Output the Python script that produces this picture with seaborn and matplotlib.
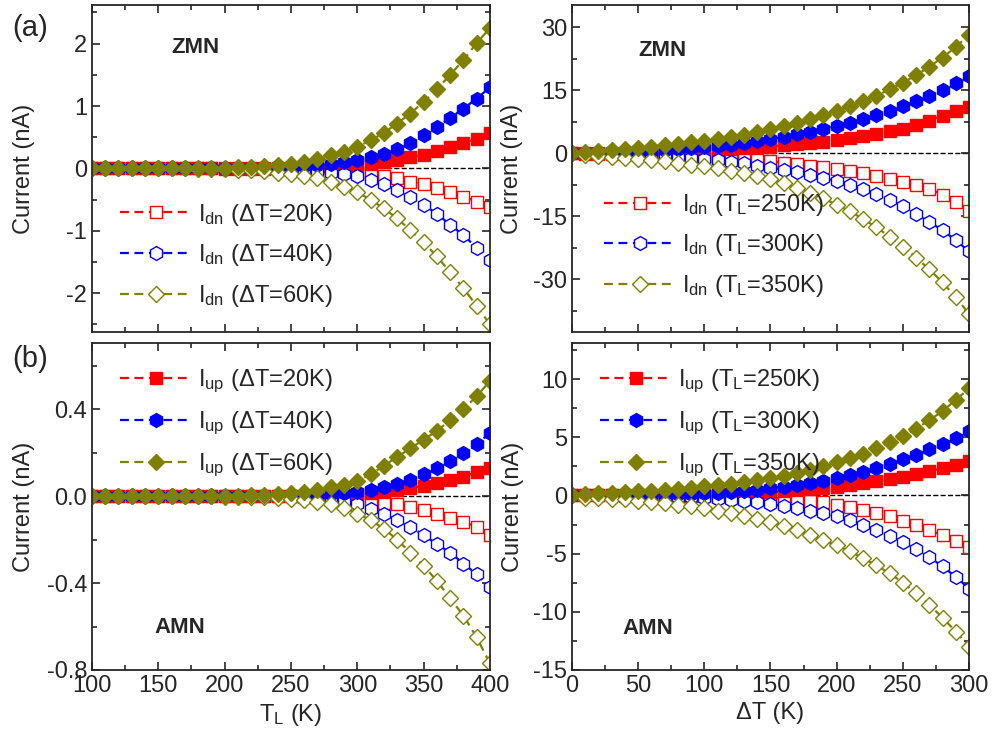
import matplotlib
matplotlib.use('Agg')
import matplotlib.pyplot as plt
from matplotlib.ticker import MultipleLocator, FormatStrFormatter
import seaborn as sns

sns.set_style('ticks')
plt.rcParams['font.family'] = ['Liberation Sans', 'DejaVu Sans']
plt.rcParams['mathtext.default'] = 'regular'
plt.rcParams['axes.unicode_minus'] = False

# x grids
T_L = [100, 110, 120, 130, 140, 150, 160, 170, 180, 190, 200, 210, 220, 230, 240, 250,
       260, 270, 280, 290, 300, 310, 320, 330, 340, 350, 360, 370, 380, 390, 400]
dT = [0, 10, 20, 30, 40, 50, 60, 70, 80, 90, 100, 110, 120, 130, 140, 150,
      160, 170, 180, 190, 200, 210, 220, 230, 240, 250, 260, 270, 280, 290, 300]

# (a) left: ZMN vs T_L, dT = 20/40/60 K
zmn_up_20 = [0, 0, 0, 0, 0, 0, 0, 0, 0, 0, 0.002, 0.003, 0.005, 0.007, 0.01, 0.013,
             0.017, 0.023, 0.03, 0.04, 0.052, 0.07, 0.1, 0.14, 0.18, 0.22, 0.28, 0.34, 0.41, 0.47, 0.57]
zmn_up_40 = [0, 0, 0, 0, 0, 0, 0, 0, 0, 0, 0.004, 0.006, 0.009, 0.013, 0.018, 0.025,
             0.034, 0.05, 0.07, 0.1, 0.14, 0.18, 0.23, 0.31, 0.41, 0.53, 0.67, 0.81, 0.96, 1.12, 1.30]
zmn_up_60 = [0, 0, 0, 0, 0, 0, 0, 0, 0.005, 0.008, 0.012, 0.017, 0.024, 0.034, 0.05, 0.075,
             0.11, 0.15, 0.21, 0.27, 0.35, 0.45, 0.57, 0.72, 0.88, 1.07, 1.27, 1.50, 1.74, 2.01, 2.25]
zmn_dn_20 = [0, 0, 0, 0, 0, 0, 0, 0, 0, 0, -0.002, -0.003, -0.005, -0.007, -0.01, -0.013,
             -0.017, -0.022, -0.03, -0.04, -0.06, -0.09, -0.12, -0.16, -0.21, -0.25, -0.31, -0.38, -0.45, -0.53, -0.62]
zmn_dn_40 = [0, 0, 0, 0, 0, 0, 0, 0, 0, 0, -0.003, -0.005, -0.008, -0.012, -0.017, -0.024,
             -0.034, -0.05, -0.07, -0.09, -0.12, -0.18, -0.25, -0.34, -0.45, -0.58, -0.73, -0.90, -1.07, -1.27, -1.47]
zmn_dn_60 = [0, 0, 0, 0, 0, 0, 0, 0, -0.006, -0.009, -0.014, -0.02, -0.03, -0.045, -0.065, -0.09,
             -0.12, -0.16, -0.21, -0.29, -0.38, -0.50, -0.64, -0.80, -0.99, -1.18, -1.41, -1.66, -1.92, -2.20, -2.50]

# (a) right: ZMN vs dT, T_L = 250/300/350 K
zmn_up_250 = [0, 0.05, 0.1, 0.15, 0.2, 0.25, 0.3, 0.4, 0.5, 0.6, 0.7, 0.85, 1.0, 1.2, 1.4, 1.6,
              1.9, 2.2, 2.5, 2.8, 3.2, 3.6, 4.1, 4.6, 5.2, 5.9, 6.7, 7.8, 9.0, 10.0, 11.0]
zmn_up_300 = [0, 0.1, 0.2, 0.3, 0.4, 0.5, 0.6, 0.8, 1.0, 1.2, 1.5, 1.8, 2.1, 2.5, 2.9, 3.4,
              3.9, 4.5, 5.1, 5.8, 6.5, 7.3, 8.2, 9.1, 10.1, 11.2, 12.4, 13.7, 15.1, 16.7, 18.4]
zmn_up_350 = [0, 0.3, 0.5, 0.8, 1.0, 1.3, 1.6, 1.9, 2.2, 2.6, 3.0, 3.4, 3.9, 4.4, 5.0, 5.7,
              6.4, 7.2, 8.1, 9.1, 10.1, 11.2, 12.4, 13.7, 15.2, 16.8, 18.6, 20.6, 22.8, 25.3, 28.2]
zmn_dn_250 = [0, -0.05, -0.1, -0.15, -0.2, -0.3, -0.35, -0.45, -0.55, -0.7, -0.85, -1.0, -1.2, -1.4, -1.65, -1.9,
              -2.2, -2.5, -2.9, -3.3, -3.7, -4.2, -4.7, -5.3, -6.0, -6.7, -7.5, -8.5, -9.8, -11.6, -13.6]
zmn_dn_300 = [0, -0.05, -0.1, -0.15, -0.25, -0.35, -0.45, -0.6, -0.8, -1.0, -1.3, -1.6, -2.0, -2.4, -2.9, -3.4,
              -3.9, -4.5, -5.1, -5.8, -6.6, -7.5, -8.5, -9.6, -11.0, -12.6, -14.4, -16.3, -18.3, -20.7, -23.3]
zmn_dn_350 = [0, -0.4, -0.6, -0.8, -1.0, -1.3, -1.6, -1.9, -2.3, -2.7, -3.1, -3.6, -4.1, -4.7, -5.4, -6.2,
              -7.1, -8.2, -9.4, -10.7, -12.2, -13.8, -15.6, -17.6, -19.8, -22.2, -24.8, -27.6, -30.7, -34.2, -38.2]

# (b) left: AMN vs T_L
amn_up_20 = [0, 0, 0, 0, 0, 0, 0, 0, 0, 0, 0, 0, 0, 0, 0.001, 0.001,
             0.002, 0.003, 0.004, 0.006, 0.01, 0.014, 0.02, 0.028, 0.038, 0.048, 0.06, 0.075, 0.09, 0.11, 0.13]
amn_up_40 = [0, 0, 0, 0, 0, 0, 0, 0, 0, 0, 0, 0, 0, 0, 0.002, 0.003,
             0.004, 0.005, 0.008, 0.013, 0.02, 0.03, 0.04, 0.055, 0.075, 0.10, 0.13, 0.16, 0.20, 0.24, 0.29]
amn_up_60 = [0, 0, 0, 0, 0, 0, 0, 0, 0, 0, 0.002, 0.003, 0.004, 0.006, 0.01, 0.015,
             0.02, 0.03, 0.04, 0.05, 0.07, 0.10, 0.14, 0.18, 0.22, 0.26, 0.30, 0.35, 0.40, 0.46, 0.53]
amn_dn_20 = [0, 0, 0, 0, 0, 0, 0, 0, 0, 0, 0, 0, 0, 0, 0, 0,
             -0.002, -0.003, -0.005, -0.008, -0.012, -0.02, -0.03, -0.037, -0.05, -0.065, -0.08, -0.10, -0.12, -0.14, -0.18]
amn_dn_40 = [0, 0, 0, 0, 0, 0, 0, 0, 0, 0, 0, 0, 0, 0, -0.002, -0.003,
             -0.004, -0.006, -0.012, -0.022, -0.037, -0.057, -0.083, -0.11, -0.14, -0.18, -0.22, -0.26, -0.31, -0.36, -0.42]
amn_dn_60 = [0, 0, 0, 0, 0, 0, 0, 0, 0, 0, -0.002, -0.003, -0.004, -0.006, -0.009, -0.013,
             -0.018, -0.025, -0.036, -0.054, -0.08, -0.11, -0.15, -0.20, -0.26, -0.32, -0.39, -0.47, -0.55, -0.65, -0.77]

# (b) right: AMN vs dT
amn_up_250 = [0, 0.003, 0.005, 0.01, 0.015, 0.02, 0.025, 0.035, 0.045, 0.06, 0.08, 0.1, 0.13, 0.17, 0.22, 0.28,
              0.35, 0.43, 0.52, 0.63, 0.75, 0.88, 1.03, 1.2, 1.4, 1.6, 1.82, 2.07, 2.35, 2.65, 3.0]
amn_up_300 = [0, 0.01, 0.02, 0.03, 0.04, 0.05, 0.07, 0.09, 0.12, 0.15, 0.19, 0.25, 0.32, 0.4, 0.5, 0.62,
              0.75, 0.9, 1.08, 1.28, 1.5, 1.75, 2.05, 2.35, 2.7, 3.1, 3.5, 3.95, 4.4, 4.9, 5.5]
amn_up_350 = [0, 0.15, 0.2, 0.25, 0.3, 0.35, 0.42, 0.5, 0.58, 0.67, 0.77, 0.88, 1.0, 1.15, 1.3, 1.5,
              1.7, 1.95, 2.2, 2.5, 2.85, 3.2, 3.6, 4.05, 4.55, 5.1, 5.75, 6.45, 7.25, 8.2, 9.2]
amn_dn_250 = [0, 0, 0, -0.005, -0.01, -0.015, -0.02, -0.025, -0.03, -0.035, -0.04, -0.06, -0.08, -0.11, -0.15, -0.2,
              -0.27, -0.35, -0.45, -0.6, -0.8, -1.0, -1.25, -1.55, -1.8, -2.2, -2.55, -3.0, -3.4, -3.9, -4.4]
amn_dn_300 = [0, -0.01, -0.02, -0.03, -0.04, -0.05, -0.07, -0.1, -0.13, -0.17, -0.22, -0.29, -0.37, -0.48, -0.6, -0.75,
              -0.92, -1.1, -1.3, -1.55, -1.8, -2.1, -2.5, -2.95, -3.45, -4.0, -4.6, -5.3, -6.1, -7.0, -8.0]
amn_dn_350 = [0, -0.2, -0.25, -0.3, -0.35, -0.45, -0.55, -0.65, -0.8, -0.95, -1.1, -1.3, -1.5, -1.75, -2.0, -2.3,
              -2.6, -3.0, -3.4, -3.85, -4.3, -4.8, -5.4, -6.0, -6.7, -7.5, -8.4, -9.4, -10.5, -11.7, -13.0]

colors = ['#ff0000', '#0000ff', '#808000']
markers = ['s', 'h', 'D']
msizes = [8.5, 10, 8.5]

fig = plt.figure(figsize=(9.92, 7.44), dpi=100)
ax_tl = fig.add_axes([0.0927, 0.5538, 0.4012, 0.4395])
ax_tr = fig.add_axes([0.5766, 0.5538, 0.4002, 0.4395])
ax_bl = fig.add_axes([0.0927, 0.0995, 0.4012, 0.4395])
ax_br = fig.add_axes([0.5766, 0.0995, 0.4002, 0.4395])

FS = 17


def draw(ax, x, ups, dns, legend_open, labels, ylab_x):
    hands = []
    for i in range(3):
        for ys, filled in ((dns[i], False), (ups[i], True)):
            sns.lineplot(x=x, y=ys, ax=ax, color=colors[i], marker=markers[i],
                         markersize=msizes[i], markeredgewidth=1.0,
                         markerfacecolor=colors[i] if filled else 'white',
                         markeredgecolor=colors[i], linestyle=(0, (4, 2.5)),
                         linewidth=1.6, sort=False, estimator=None)
            if filled != legend_open:
                hands.append(ax.lines[-1])
    ax.axhline(0, color='black', linestyle='--', linewidth=1, zorder=0.5)
    ax.legend(hands, labels, frameon=False, fontsize=FS, handlelength=3.0,
              handletextpad=0.3, labelspacing=0.62, borderaxespad=0.3)
    ax.tick_params(which='both', direction='in', top=True, right=True, width=1.2, labelsize=FS)
    ax.tick_params(which='major', length=6)
    ax.tick_params(which='minor', length=3.5)
    for s in ax.spines.values():
        s.set_linewidth(1.3)
    ax.set_ylabel('Current (nA)', fontsize=FS)
    ax.yaxis.set_label_coords(ylab_x, 0.5)
    return ax.get_legend()


lab_dT_dn = ['I$_{dn}$ (ΔT=20K)', 'I$_{dn}$ (ΔT=40K)', 'I$_{dn}$ (ΔT=60K)']
lab_TL_dn = ['I$_{dn}$ (T$_{L}$=250K)', 'I$_{dn}$ (T$_{L}$=300K)', 'I$_{dn}$ (T$_{L}$=350K)']
lab_dT_up = ['I$_{up}$ (ΔT=20K)', 'I$_{up}$ (ΔT=40K)', 'I$_{up}$ (ΔT=60K)']
lab_TL_up = ['I$_{up}$ (T$_{L}$=250K)', 'I$_{up}$ (T$_{L}$=300K)', 'I$_{up}$ (T$_{L}$=350K)']

leg = draw(ax_tl, T_L, [zmn_up_20, zmn_up_40, zmn_up_60], [zmn_dn_20, zmn_dn_40, zmn_dn_60], True, lab_dT_dn, -0.143)
leg.set_bbox_to_anchor((0.03, 0.02), transform=ax_tl.transAxes)
leg._loc = 3
leg = draw(ax_tr, dT, [zmn_up_250, zmn_up_300, zmn_up_350], [zmn_dn_250, zmn_dn_300, zmn_dn_350], True, lab_TL_dn, -0.123)
leg.set_bbox_to_anchor((0.04, 0.05), transform=ax_tr.transAxes)
leg._loc = 3
leg = draw(ax_bl, T_L, [amn_up_20, amn_up_40, amn_up_60], [amn_dn_20, amn_dn_40, amn_dn_60], False, lab_dT_up, -0.143)
leg.set_bbox_to_anchor((0.03, 0.975), transform=ax_bl.transAxes)
leg._loc = 2
leg = draw(ax_br, dT, [amn_up_250, amn_up_300, amn_up_350], [amn_dn_250, amn_dn_300, amn_dn_350], False, lab_TL_up, -0.12)
leg.set_bbox_to_anchor((0.03, 0.975), transform=ax_br.transAxes)
leg._loc = 2

for ax in (ax_tl, ax_bl):
    ax.set_xlim(100, 400)
    ax.xaxis.set_major_locator(MultipleLocator(50))
    ax.xaxis.set_minor_locator(MultipleLocator(25))
for ax in (ax_tr, ax_br):
    ax.set_xlim(0, 300)
    ax.xaxis.set_major_locator(MultipleLocator(50))
    ax.xaxis.set_minor_locator(MultipleLocator(25))

ax_tl.set_ylim(-2.62, 2.62)
ax_tl.yaxis.set_major_locator(MultipleLocator(1))
ax_tl.yaxis.set_minor_locator(MultipleLocator(0.5))
ax_tr.set_ylim(-42.5, 35.3)
ax_tr.yaxis.set_major_locator(MultipleLocator(15))
ax_tr.yaxis.set_minor_locator(MultipleLocator(7.5))
ax_bl.set_ylim(-0.8, 0.705)
ax_bl.yaxis.set_major_locator(MultipleLocator(0.4))
ax_bl.yaxis.set_minor_locator(MultipleLocator(0.2))
ax_bl.yaxis.set_major_formatter(FormatStrFormatter('%.1f'))
ax_br.set_ylim(-15, 13.1)
ax_br.yaxis.set_major_locator(MultipleLocator(5))
ax_br.yaxis.set_minor_locator(MultipleLocator(2.5))

ax_tl.tick_params(labelbottom=False)
ax_tr.tick_params(labelbottom=False)
ax_tl.set_xlabel('')
ax_tr.set_xlabel('')
ax_bl.set_xlabel('T$_{L}$ (K)', fontsize=FS)
ax_br.set_xlabel('ΔT (K)', fontsize=FS)

ax_tl.text(0.26, 0.87, 'ZMN', transform=ax_tl.transAxes, fontsize=16, fontweight='bold', ha='center', va='center')
ax_tr.text(0.227, 0.862, 'ZMN', transform=ax_tr.transAxes, fontsize=16, fontweight='bold', ha='center', va='center')
ax_bl.text(0.22, 0.13, 'AMN', transform=ax_bl.transAxes, fontsize=16, fontweight='bold', ha='center', va='center')
ax_br.text(0.19, 0.128, 'AMN', transform=ax_br.transAxes, fontsize=16, fontweight='bold', ha='center', va='center')

fig.text(0.03, 0.962, '(a)', fontsize=21, ha='center', va='center')
fig.text(0.03, 0.518, '(b)', fontsize=21, ha='center', va='center')

fig.savefig('out.png', dpi=100)
